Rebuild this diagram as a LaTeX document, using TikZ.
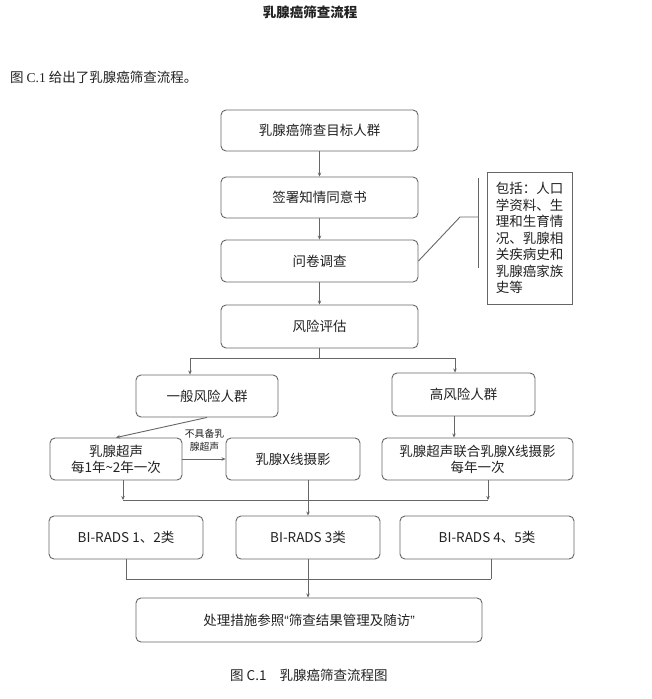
\documentclass[tikz,border=0pt]{standalone}
\usepackage{fontspec}
\setmainfont{Noto Sans CJK SC}
\newfontfamily\latinserif{Liberation Serif}
\newfontfamily\latinsans{Liberation Sans}
\usetikzlibrary{arrows.meta}
\definecolor{ln}{HTML}{666666}
\definecolor{tx}{HTML}{222222}
\tikzset{
  boxs/.style={draw=ln, line width=0.9pt, rounded corners=5pt, text=tx,
    font=\fontsize{13.5}{16}\selectfont, align=center, inner sep=0pt},
  conn/.style={draw=ln, line width=0.9pt},
  arr/.style={conn, -{Stealth[length=4pt,width=3.5pt]}},
  plain/.style={text=tx, inner sep=0pt}
}
\begin{document}
\begin{tikzpicture}[x=1pt,y=-1pt]
\useasboundingbox (0,0) rectangle (651,699);
\fill[white] (0,0) rectangle (651,699);

% header texts
\node[plain, font=\fontsize{13.5}{16}\selectfont\bfseries] (title) at (310,12) {乳腺癌筛查流程};
\node[plain, anchor=west, font=\fontsize{13.5}{16}\selectfont] (intro) at (10,77) {图 {\latinserif C.1} 给出了乳腺癌筛查流程。};

% main column
\node[boxs, minimum width=197, minimum height=41] (b1) at (319.5,130.5) {乳腺癌筛查目标人群};
\node[boxs, minimum width=197, minimum height=41] (b2) at (319.5,197.5) {签署知情同意书};
\node[boxs, minimum width=197, minimum height=42] (b3) at (319.5,261) {问卷调查};
\node[boxs, minimum width=197, minimum height=43] (b4) at (319.5,326.5) {风险评估};

% note
\node[draw=ln, line width=0.9pt, text=tx, inner sep=0pt, minimum width=85, minimum height=132,
      align=left, font=\fontsize{13.5}{16.5}\selectfont] (note) at (529.5,238)
  {包括：人口\\学资料、生\\理和生育情\\况、乳腺相\\关疾病史和\\乳腺癌家族\\史等\phantom{乳腺癌}};

\draw[arr] (b1.south) -- (b2.north);
\draw[arr] (b2.south) -- (b3.north);
\draw[arr] (b3.south) -- (b4.north);

% bracket
\coordinate (k1) at (460,217);
\coordinate (km) at (478,217);
\coordinate (kt) at (478,178);
\coordinate (kb) at (478,268);
\draw[conn] (b3.east) -- (k1) -- (km);
\draw[conn] (kt) -- (kb);

% risk groups
\node[boxs, minimum width=142, minimum height=42] (g1) at (207,396) {一般风险人群};
\node[boxs, minimum width=143, minimum height=43] (h1) at (463.5,394.5) {高风险人群};

\coordinate (s0) at (319.5,358);
\coordinate (sl) at (190,358);
\coordinate (sr) at (455,358);
\draw[conn] (b4.south) -- (s0);
\draw[conn] (sl) -- (sr);
\draw[arr] (sl) -- (sl |- g1.north);
\draw[arr] (sr) -- (sr |- h1.north);

% screening methods
\node[boxs, minimum width=132, minimum height=42] (us) at (116,459) {乳腺超声\\每1年\textasciitilde2年一次};
\node[boxs, minimum width=134, minimum height=42] (xr) at (293,459) {乳腺X线摄影};
\node[boxs, minimum width=191, minimum height=42] (hc) at (477.5,459) {乳腺超声联合乳腺X线摄影\\每年一次};

\draw[arr] (g1.south) -- (us.north);
\draw[arr] (us.east) -- (xr.west);
\node[plain, align=center, font=\fontsize{9.8}{12.5}\selectfont] (lbl) at (204.5,440.5) {不具备乳\\腺超声};
\draw[arr] ([xshift=-9.5pt]h1.south) -- ([xshift=-23.5pt]hc.north);

% BI-RADS
\node[boxs, minimum width=154, minimum height=43] (r12) at (126,537.5) {BI-RADS 1、2类};
\node[boxs, minimum width=144, minimum height=43] (r3) at (308,537.5) {BI-RADS 3类};
\node[boxs, minimum width=174, minimum height=43] (r45) at (487,537.5) {BI-RADS 4、5类};

\coordinate (m1) at (123,500);
\coordinate (m2) at (488,500);
\draw[arr] (us.south -| m1) -- (m1);
\draw[arr] (hc.south -| m2) -- (m2);
\draw[conn] (m1) -- (m2);
\draw[arr] (r3.north |- xr.south) -- (r3.north);

% final
\node[boxs, minimum width=346, minimum height=44] (fin) at (309,620) {处理措施参照{\latinsans“}筛查结果管理及随访{\latinsans”}};

\coordinate (n1) at (126,579);
\coordinate (n2) at (491,579);
\draw[conn] (r12.south) -- (n1);
\draw[conn] (r45.south -| n2) -- (n2);
\draw[conn] (n1) -- (n2);
\draw[arr] (r3.south) -- (r3.south |- fin.north);

% caption
\node[plain, anchor=west, font=\fontsize{13.5}{16}\selectfont] (cap) at (230,675) {图 C.1\hspace{13pt}乳腺癌筛查流程图};
\end{tikzpicture}
\end{document}
